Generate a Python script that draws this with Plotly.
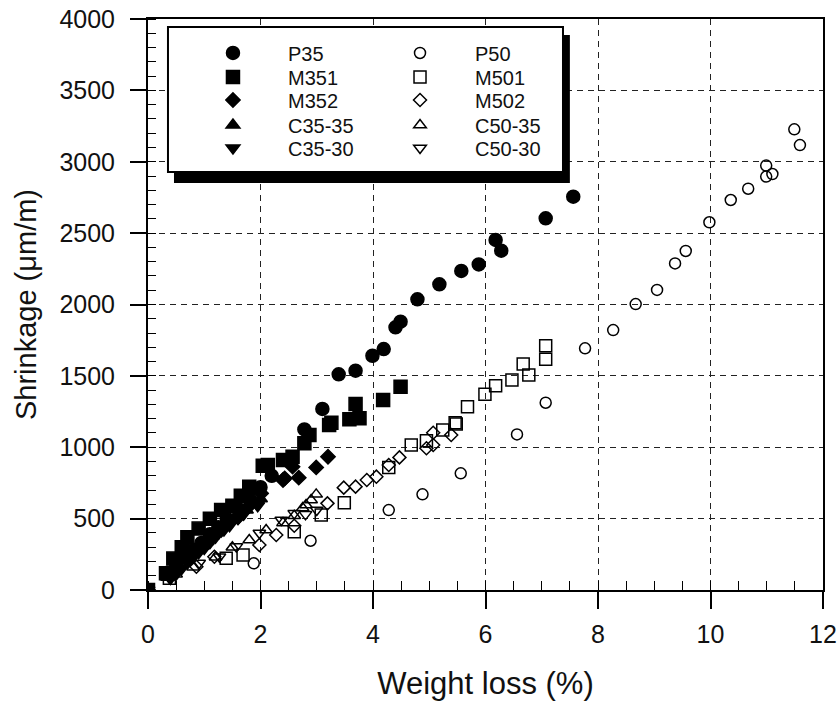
import plotly.graph_objects as go

# Weight loss (%) and drying shrinkage (um/m) per mix
p35_x = [0, 0.35, 0.5, 0.65, 0.8, 0.95, 1.1, 1.25, 1.4, 1.6, 1.8, 2.0, 2.2, 2.5, 2.78, 3.10, 3.39, 3.69, 3.99, 4.19, 4.40, 4.49, 4.79, 5.18, 5.57, 5.88, 6.18, 6.28, 7.07, 7.56]
p35_y = [0, 120, 170, 230, 280, 330, 390, 440, 500, 570, 640, 720, 800, 910, 1125, 1268, 1511, 1536, 1641, 1688, 1840, 1880, 2036, 2141, 2235, 2281, 2452, 2377, 2604, 2755]

m351_x = [0, 0.32, 0.45, 0.6, 0.7, 0.9, 1.1, 1.3, 1.5, 1.65, 1.80, 2.04, 2.13, 2.40, 2.57, 2.78, 2.87, 3.22, 3.26, 3.58, 3.69, 3.76, 4.18, 4.49]
m351_y = [0, 117, 220, 300, 370, 430, 500, 560, 590, 660, 724, 871, 876, 911, 934, 1028, 1086, 1156, 1172, 1196, 1303, 1203, 1331, 1424]

m352_x = [0, 0.4, 0.7, 1.0, 1.3, 1.6, 1.8, 2.01, 2.40, 2.43, 2.57, 2.68, 2.99, 3.20]
m352_y = [0, 110, 210, 310, 420, 510, 590, 677, 770, 782, 864, 787, 859, 934]

c3535_x = [0, 0.35, 0.45, 0.55, 0.65, 0.75, 0.85, 0.95, 1.05, 1.15, 1.25, 1.35, 1.5, 1.6, 1.75, 1.89, 2.0]
c3535_y = [0, 90, 130, 170, 210, 240, 280, 310, 340, 380, 420, 450, 490, 520, 560, 609, 640]

c3530_x = [0, 0.4, 0.5, 0.6, 0.7, 0.8, 0.9, 1.0, 1.1, 1.2, 1.35, 1.45, 1.6, 1.7, 1.95]
c3530_y = [0, 80, 110, 150, 190, 230, 260, 290, 330, 370, 420, 450, 500, 530, 590]

p50_x = [0, 1.88, 2.89, 4.28, 4.88, 5.56, 6.56, 7.07, 7.77, 8.27, 8.67, 9.05, 9.37, 9.56, 9.98, 10.36, 10.67, 10.99, 10.99, 11.10, 11.49, 11.59]
p50_y = [0, 187, 345, 560, 670, 817, 1090, 1312, 1693, 1821, 2003, 2102, 2288, 2375, 2576, 2732, 2811, 2973, 2896, 2914, 3227, 3117]

m501_x = [0, 0.38, 1.39, 1.69, 2.60, 3.08, 3.49, 4.28, 4.68, 4.95, 5.24, 5.48, 5.46, 5.68, 5.99, 6.18, 6.47, 6.77, 6.67, 7.07, 7.07]
m501_y = [0, 82, 222, 245, 408, 525, 612, 859, 1016, 1046, 1121, 1163, 1172, 1284, 1371, 1431, 1471, 1506, 1583, 1616, 1711]

m502_x = [0, 0.86, 1.18, 1.98, 2.28, 2.6, 3.19, 3.48, 3.69, 3.89, 4.06, 4.28, 4.47, 4.95, 5.07, 5.07, 5.39]
m502_y = [0, 163, 233, 315, 385, 450, 607, 717, 724, 771, 794, 876, 929, 993, 1016, 1102, 1086]

c5035_x = [0, 0.5, 0.8, 1.2, 1.5, 1.8, 2.1, 2.4, 2.6, 2.75, 2.81, 2.90, 2.99]
c5035_y = [0, 110, 160, 230, 300, 350, 420, 470, 520, 574, 595, 630, 670]

c5030_x = [0, 0.38, 0.91, 1.27, 1.57, 1.98, 2.37, 2.60, 2.8, 3.0]
c5030_y = [0, 84, 189, 233, 304, 399, 490, 537, 530, 560]

# (name, x, y, symbol, size)
series = [
    ("P35", p35_x, p35_y, "circle", 13),
    ("M351", m351_x, m351_y, "square", 13),
    ("M352", m352_x, m352_y, "diamond", 11),
    ("C35-35", c3535_x, c3535_y, "triangle-up", 12),
    ("C35-30", c3530_x, c3530_y, "triangle-down", 12),
    ("P50", p50_x, p50_y, "circle-open", 11),
    ("M501", m501_x, m501_y, "square-open", 12),
    ("M502", m502_x, m502_y, "diamond-open", 10),
    ("C50-35", c5035_x, c5035_y, "triangle-up-open", 11),
    ("C50-30", c5030_x, c5030_y, "triangle-down-open", 11),
]

FONT = "Liberation Sans, Arial, sans-serif"

# two legend columns of five rows, one legend per entry so the row pitch is fixed
col_x = [0.0444, 0.3215]
row_y = [0.9405, 0.8984, 0.8581, 0.8143, 0.7741]

fig = go.Figure()
legend_layout = {}
for i, (name, xs, ys, sym, size) in enumerate(series):
    key = "legend" if i == 0 else f"legend{i + 1}"
    fig.add_trace(go.Scatter(
        x=xs, y=ys, mode="markers", name=name, legend=key, showlegend=True,
        marker=dict(symbol=sym, size=size, color="black",
                    line=dict(color="black", width=1.5)),
    ))
    legend_layout[key] = dict(
        x=col_x[i // 5], y=row_y[i % 5], xanchor="left", yanchor="middle",
        bgcolor="rgba(0,0,0,0)", borderwidth=0, itemwidth=100,
        font=dict(family=FONT, size=20, color="#111"),
    )

# legend frame with a drop shadow
fig.add_shape(type="rect", xref="paper", yref="paper",
              x0=0.0385, x1=0.625, y0=0.713, y1=0.972,
              fillcolor="black", line=dict(width=0), layer="above")
fig.add_shape(type="rect", xref="paper", yref="paper",
              x0=0.0296, x1=0.6148, y0=0.732, y1=0.986,
              fillcolor="white", line=dict(color="black", width=2), layer="above")

fig.update_layout(
    width=839, height=708,
    margin=dict(l=148, r=16, t=19, b=118),
    paper_bgcolor="white", plot_bgcolor="white",
    showlegend=True,
    font=dict(family=FONT, color="#111"),
    xaxis=dict(
        range=[0, 12], tickmode="array", tickvals=[0, 2, 4, 6, 8, 10, 12],
        ticks="outside", ticklen=17, tickwidth=1.5, tickcolor="black",
        ticklabelstandoff=4, automargin=False,
        minor=dict(dtick=0.5, ticks="inside", ticklen=9, tickwidth=1, tickcolor="black", showgrid=False),
        showline=True, linecolor="black", linewidth=2, mirror=True,
        showgrid=True, gridcolor="#222", gridwidth=1.2, griddash="6px,5px",
        zeroline=False,
        tickfont=dict(family=FONT, size=25, color="#111"),
        title=dict(text="Weight loss (%)", font=dict(family=FONT, size=31, color="#111"), standoff=25),
    ),
    yaxis=dict(
        range=[0, 4000], tickmode="array", tickvals=list(range(0, 4001, 500)),
        ticks="outside", ticklen=16, tickwidth=1.5, tickcolor="black",
        ticklabelstandoff=10, automargin=False,
        minor=dict(dtick=100, ticks="inside", ticklen=8, tickwidth=1, tickcolor="black", showgrid=False),
        showline=True, linecolor="black", linewidth=2, mirror=True,
        showgrid=True, gridcolor="#222", gridwidth=1.2, griddash="6px,5px",
        zeroline=False,
        tickfont=dict(family=FONT, size=25, color="#111"),
        title=dict(text="Shrinkage (μm/m)", font=dict(family=FONT, size=29, color="#111"), standoff=14),
    ),
)
fig.update_layout(**legend_layout)

fig.write_html("out.html")
